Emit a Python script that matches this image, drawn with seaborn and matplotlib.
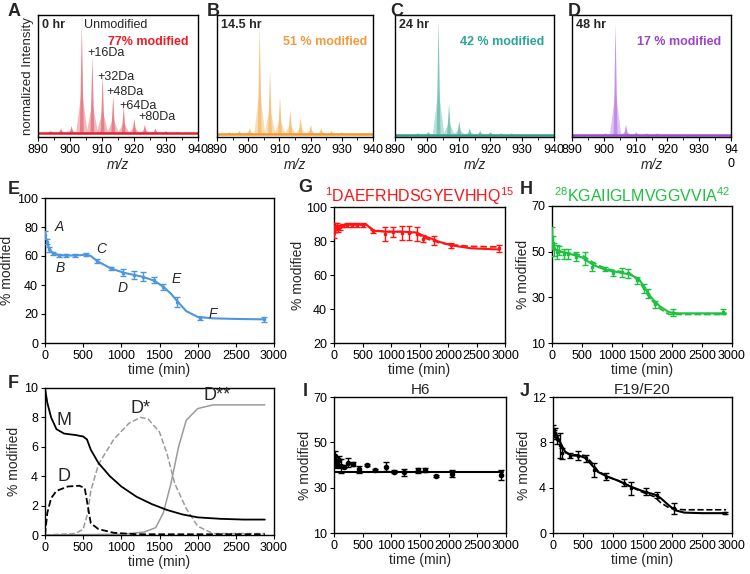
import numpy as np
import pandas as pd
import matplotlib
matplotlib.use("Agg")
import matplotlib.pyplot as plt
import seaborn as sns

sns.set_style("ticks")
plt.rcParams['font.family'] = ['Liberation Sans', 'DejaVu Sans']
plt.rcParams['mathtext.fontset'] = 'custom'
plt.rcParams['mathtext.rm'] = 'Liberation Sans'
plt.rcParams['mathtext.it'] = 'Liberation Sans:italic'
plt.rcParams['axes.edgecolor'] = 'black'
plt.rcParams['xtick.color'] = 'black'
plt.rcParams['ytick.color'] = 'black'

# ---- spectra (A-D): peak centres (m/z) and normalised heights ----
peak_mz = [894.0, 897.2, 900.5, 903.7, 907.0, 910.2, 913.5, 916.8, 920.1, 923.4, 926.7, 930.0, 933.4, 936.8]
int_0hr = [0.05, 0.07, 0.09, 0.93, 0.66, 0.50, 0.34, 0.25, 0.15, 0.10, 0.07, 0.05, 0.04, 0.03]
int_14hr = [0.04, 0.05, 0.07, 0.92, 0.55, 0.33, 0.22, 0.16, 0.10, 0.07, 0.05, 0.04, 0.03, 0.03]
int_24hr = [0.02, 0.03, 0.04, 0.96, 0.27, 0.13, 0.07, 0.05, 0.04, 0.03, 0.03, 0.02, 0.02, 0.02]
int_48hr = [0.02, 0.02, 0.03, 0.93, 0.10, 0.04, 0.03, 0.03, 0.02, 0.02, 0.02, 0.02, 0.02, 0.02]
baselines = [0.033, 0.025, 0.02, 0.015]
spec_times = ["0 hr", "14.5 hr", "24 hr", "48 hr"]
spec_mod = ["77% modified", "51 % modified", "42 % modified", "17 % modified"]
mz_ticks = [890, 900, 910, 920, 930, 940]

# ---- E: overall % modified ----
e_time = [0, 22, 57, 109, 187, 275, 393, 537, 677, 860, 1026, 1170, 1288, 1428, 1550, 1725, 2030, 2873]
e_mod = [74.5, 70, 64.6, 61.8, 60.5, 60.4, 60.4, 60.9, 56.6, 51.5, 48.5, 46.9, 45.7, 43.4, 38.8, 28, 17, 16.3]
e_err = [3, 2, 1.5, 1, 1, 1, 1, 1.2, 1.5, 1, 2.5, 3, 3, 2, 2, 3.5, 1, 1.5]
e_fit_time = [0, 20, 60, 110, 190, 300, 420, 540, 600, 680, 860, 1030, 1170, 1290, 1430, 1550, 1650, 1730, 1850, 2000, 2200, 2500, 2873]
e_fit_mod = [74.5, 70, 64.6, 61.8, 60.5, 60.3, 60.4, 60.9, 60.0, 56.6, 51.5, 48.5, 46.9, 45.5, 43, 38.8, 34, 29, 22, 18, 17, 16.6, 16.3]
e_letters = ["A", "B", "C", "D", "E", "F"]
e_letter_t = [131, 144, 668, 957, 1660, 2140]
e_letter_v = [80, 52, 65, 38, 44, 20]

# ---- F: model species ----
m_time = [0, 30, 80, 150, 250, 400, 500, 550, 600, 700, 850, 1000, 1200, 1400, 1600, 1800, 2000, 2300, 2600, 2880]
m_val = [10, 9, 8, 7.2, 6.9, 6.8, 6.7, 6.5, 5.8, 4.9, 4.0, 3.3, 2.6, 2.1, 1.7, 1.4, 1.2, 1.1, 1.05, 1.05]
d_time = [0, 30, 80, 150, 300, 450, 520, 560, 600, 700, 900, 1200, 2880]
d_val = [0, 1.5, 2.5, 3.0, 3.3, 3.35, 3.2, 2.0, 0.8, 0.4, 0.15, 0.05, 0.05]
ds_time = [0, 400, 500, 560, 600, 700, 900, 1100, 1250, 1350, 1500, 1600, 1700, 1850, 2000, 2200, 2880]
ds_val = [0, 0.1, 0.4, 1.5, 3.0, 4.8, 6.5, 7.6, 8.0, 7.9, 7.0, 5.5, 3.5, 1.8, 0.6, 0.1, 0.1]
dss_time = [0, 1000, 1300, 1450, 1550, 1650, 1750, 1850, 2000, 2200, 2880]
dss_val = [0, 0.05, 0.2, 0.5, 1.5, 3.5, 6.0, 7.8, 8.6, 8.85, 8.85]

# ---- G: N-terminal fragment ----
g_time = [0, 10, 25, 45, 70, 100, 150, 228, 316, 404, 509, 684, 895, 1040, 1187, 1316, 1450, 1567, 1760, 2047, 2895]
g_mod = [84.5, 88, 87.5, 88.5, 87.5, 88, 89, 89.5, 89.5, 89.5, 89.5, 85.6, 84.2, 85.5, 84.7, 84.7, 84, 81.4, 80.4, 77.6, 75.6]
g_err = [3, 2.5, 2, 2, 2, 1.5, 1, 1, 1, 1, 1, 1, 4, 3, 4, 4, 4, 2, 2.5, 1.5, 2]
g_fit_time = [0, 30, 100, 250, 570, 690, 900, 1200, 1450, 1570, 1700, 1850, 2050, 2400, 2900]
g_fit_mod = [85, 88, 89, 89.6, 89.6, 86, 85.5, 85.5, 85, 83, 81.5, 79.5, 77.5, 75.7, 75]
g_dash_mod = [86, 88, 89, 89.6, 89.6, 86.5, 85.5, 85.5, 84.5, 82, 80.5, 79, 77.8, 76.8, 76.5]

# ---- H: C-terminal fragment ----
h_time = [0, 15, 40, 80, 122, 200, 272, 400, 550, 661, 883, 1022, 1161, 1272, 1411, 1533, 1600, 1717, 2022, 2844]
h_mod = [56, 54, 51, 50, 50.5, 49, 49, 47.8, 47, 43.5, 42.5, 40.5, 41, 40.5, 37.5, 34, 31.5, 27, 23.3, 23.7]
h_err = [5, 3, 3, 3, 2, 2, 2, 2, 3, 2, 1, 1, 2, 2, 1.5, 2, 2, 1.5, 1.5, 1]
h_fit_time = [0, 50, 150, 300, 500, 700, 900, 1100, 1300, 1450, 1550, 1650, 1800, 1950, 2100, 2900]
h_fit_mod = [56, 51, 50, 49, 47.5, 44, 42, 41, 40, 38, 34, 30, 26, 23.5, 23, 23]
h_dash_mod = [55, 51, 50, 49.3, 48.5, 45, 42.5, 41.5, 40.5, 37, 33, 29, 25, 22.5, 22.5, 22.5]

# ---- I: H6 ----
i_time = [0, 10, 25, 40, 60, 90, 120, 180, 240, 326, 443, 570, 716, 908, 1052, 1222, 1472, 1588, 1775, 2053, 2920]
i_mod = [42.5, 44, 40.5, 41.5, 40, 42, 39.5, 39.3, 41, 40.5, 38.1, 40, 37.8, 39.3, 37.1, 36.7, 37.6, 37.8, 35.2, 36.1, 35.6]
i_err = [2, 2, 1.5, 2, 1.5, 2, 3, 0.5, 2, 1, 1.5, 0.5, 0.5, 2, 0.5, 1.5, 1, 1, 0.5, 1.5, 2]
i_fit_time = [0, 2950]
i_fit_mod = [37.1, 37.1]

# ---- J: F19/F20 ----
j_time = [6, 20, 33, 72, 117, 145, 285, 413, 553, 692, 888, 1190, 1307, 1558, 1737, 2032, 2886]
j_mod = [9.1, 8.8, 8.8, 8.27, 7.76, 7.03, 6.82, 6.8, 6.6, 5.56, 4.97, 4.44, 3.94, 3.65, 3.35, 2.18, 1.79]
j_err = [0.4, 0.3, 0.5, 0.4, 1.1, 0.5, 0.2, 0.4, 0.3, 0.6, 0.3, 0.3, 0.6, 0.3, 0.3, 0.5, 0.1]
j_fit_time = [0, 50, 120, 200, 300, 450, 550, 650, 750, 900, 1100, 1300, 1500, 1700, 1800, 1950, 2050, 2200, 2500, 2900]
j_fit_mod = [9.2, 8.8, 8.0, 7.2, 6.85, 6.8, 6.6, 6.0, 5.4, 5.0, 4.6, 4.1, 3.7, 3.4, 3.1, 2.4, 2.0, 1.8, 1.75, 1.75]
j_dash_mod = [9.2, 8.7, 7.8, 7.1, 6.9, 6.9, 6.8, 6.2, 5.5, 5.0, 4.6, 4.1, 3.6, 3.2, 2.7, 2.2, 2.1, 2.05, 2.05, 2.05]

W, H = 750, 574


def rect(l, t, r, b):
    return [l / W, 1 - b / H, (r - l) / W, (b - t) / H]


fig = plt.figure(figsize=(7.5, 5.74), dpi=100)

# spectra row
spec_rects = [(38, 15, 198, 137), (217, 15, 373, 137), (395, 15, 554, 137), (572, 15, 731, 137)]
spec_ints = [int_0hr, int_14hr, int_24hr, int_48hr]
line_cols = ["#e8202a", "#f39a2a", "#2f9e8f", "#9b4fd0"]
fill_cols = ["#e47a82", "#f5bd72", "#72c0b3", "#c186e6"]
text_cols = ["#ee1c25", "#f39a3c", "#2aa598", "#9b45cf"]
letter_x = [8, 207, 390, 568]
text_x = [0.94, 0.96, 0.94, 0.94]

for k in range(4):
    ax = fig.add_axes(rect(*spec_rects[k]))
    base = baselines[k]
    for c, h in zip(peak_mz, spec_ints[k]):
        ax.fill([c - 1.8, c, c + 1.8], [base, base + 0.4 * (h - base), base], color=fill_cols[k], alpha=0.5, lw=0)
        ax.fill([c - 0.6, c, c + 0.6], [base, h, base], color=fill_cols[k], alpha=0.9, lw=0)
    ax.axhline(base, color=line_cols[k], lw=1.8)
    ax.set_xlim(890, 940)
    ax.set_ylim(0, 1.0)
    ax.set_yticks([])
    ax.set_xticks(mz_ticks)
    labels = [str(v) for v in mz_ticks]
    if k == 3:
        labels[-1] = "94\n0"
    ax.set_xticklabels(labels, fontsize=9)
    ax.set_xticks([895, 905, 915, 925, 935], minor=True)
    ax.tick_params(axis='x', length=3, width=0.8, pad=2)
    ax.tick_params(axis='x', which='minor', length=2)
    ax.set_xlabel("m/z", fontsize=10, style='italic')
    ax.xaxis.set_label_coords(0.5, -0.17)
    for s in ax.spines.values():
        s.set_linewidth(1.0)
    ax.text(0.025, 0.92, spec_times[k], transform=ax.transAxes, fontsize=9, fontweight='bold', va='center')
    ax.text(text_x[k], 0.78, spec_mod[k], transform=ax.transAxes, fontsize=9, fontweight='bold',
            color=text_cols[k], ha='right', va='center')
    fig.text(letter_x[k] / W, 1 - 11 / H, "ABCD"[k], fontsize=13, fontweight='bold', va='center')
    if k == 0:
        ax.set_ylabel("normalized Intensity", fontsize=9.5, labelpad=3)
        ax.text(0.29, 0.92, "Unmodified", transform=ax.transAxes, fontsize=9, va='center')
        da_x = [0.31, 0.37, 0.43, 0.506, 0.627]
        da_y = [0.69, 0.49, 0.37, 0.254, 0.166]
        for lab, tx, ty in zip(["+16Da", "+32Da", "+48Da", "+64Da", "+80Da"], da_x, da_y):
            ax.text(tx, ty, lab, transform=ax.transAxes, fontsize=9, va='center')


def style_time_axis(ax, ylim, yticks, ylabel_pad=2):
    ax.set_xlim(0, 3000)
    ax.set_ylim(*ylim)
    ax.set_yticks(yticks)
    ax.set_xticks([0, 500, 1000, 1500, 2000, 2500, 3000])
    ax.tick_params(labelsize=9, length=3, width=0.8, pad=2)
    ax.set_xlabel("time (min)", fontsize=10, labelpad=1)
    ax.set_ylabel("% modified", fontsize=10, labelpad=ylabel_pad)
    for s in ax.spines.values():
        s.set_linewidth(1.0)


def points(ax, t, v, err, color, ms=2, marker='s'):
    ax.errorbar(t, v, yerr=err, fmt=marker, ms=ms, color=color, ecolor=color, elinewidth=1, capsize=2, capthick=1, zorder=3)


# E
axE = fig.add_axes(rect(45, 198, 274, 343))
blue = "#4f97dc"
sns.lineplot(x=e_fit_time, y=e_fit_mod, ax=axE, color=blue, lw=1.5)
points(axE, e_time, e_mod, e_err, blue)
for lab, tt, vv in zip(e_letters, e_letter_t, e_letter_v):
    axE.text(tt, vv, lab, fontsize=10, style='italic', va='center')
style_time_axis(axE, (0, 100), [0, 20, 40, 60, 80, 100])
fig.text(8 / W, 1 - 189 / H, "E", fontsize=13, fontweight='bold', va='center')

# F
axF = fig.add_axes(rect(45, 388, 274, 535))
sns.lineplot(x=ds_time, y=ds_val, ax=axF, color="#9a9a9a", lw=1.1, linestyle='--')
sns.lineplot(x=dss_time, y=dss_val, ax=axF, color="#9a9a9a", lw=1.1)
sns.lineplot(x=d_time, y=d_val, ax=axF, color="black", lw=1.3, linestyle='--')
sns.lineplot(x=m_time, y=m_val, ax=axF, color="black", lw=1.3)
axF.text(250, 7.8, "M", fontsize=13, ha='center', va='center')
axF.text(250, 4.0, "D", fontsize=13, ha='center', va='center')
axF.text(1250, 8.6, "D*", fontsize=13, ha='center', va='center')
axF.text(2250, 9.5, "D**", fontsize=13, ha='center', va='center')
style_time_axis(axF, (0, 10), [0, 2, 4, 6, 8, 10])
fig.text(8 / W, 1 - 383 / H, "F", fontsize=13, fontweight='bold', va='center')

# G
red = "#ff1414"
axG = fig.add_axes(rect(334, 207, 505, 343))
sns.lineplot(x=g_fit_time, y=g_dash_mod, ax=axG, color=red, lw=1.3, linestyle='--')
sns.lineplot(x=g_fit_time, y=g_fit_mod, ax=axG, color=red, lw=1.5)
points(axG, g_time, g_mod, g_err, red)
style_time_axis(axG, (20, 100), [20, 40, 60, 80, 100], ylabel_pad=1)
axG.set_title(r"$^{1}$DAEFRHDSGYEVHHQ$^{15}$", color=red, fontsize=11.5, pad=3)
fig.text(298 / W, 1 - 188 / H, "G", fontsize=13, fontweight='bold', va='center')

# H
green = "#1ec040"
axH = fig.add_axes(rect(552, 206, 732, 343))
sns.lineplot(x=h_fit_time, y=h_dash_mod, ax=axH, color=green, lw=1.3, linestyle='--')
sns.lineplot(x=h_fit_time, y=h_fit_mod, ax=axH, color=green, lw=1.5)
points(axH, h_time, h_mod, h_err, green)
style_time_axis(axH, (10, 70), [10, 30, 50, 70], ylabel_pad=1)
axH.set_title(r"$^{28}$KGAIIGLMVGGVVIA$^{42}$", color=green, fontsize=11.5, pad=3)
fig.text(520 / W, 1 - 189 / H, "H", fontsize=13, fontweight='bold', va='center')

# I
axI = fig.add_axes(rect(334, 397, 506, 533))
sns.lineplot(x=i_fit_time, y=i_fit_mod, ax=axI, color="black", lw=1.5)
points(axI, i_time, i_mod, i_err, "black", ms=3, marker='o')
style_time_axis(axI, (10, 70), [10, 30, 50, 70], ylabel_pad=1)
axI.set_title("H6", fontsize=11, pad=2)
fig.text(303 / W, 1 - 391 / H, "I", fontsize=13, fontweight='bold', va='center')

# J
axJ = fig.add_axes(rect(553, 397, 732, 533))
sns.lineplot(x=j_fit_time, y=j_dash_mod, ax=axJ, color="black", lw=1.2, linestyle='--')
sns.lineplot(x=j_fit_time, y=j_fit_mod, ax=axJ, color="black", lw=1.5)
points(axJ, j_time, j_mod, j_err, "black")
style_time_axis(axJ, (0, 12), [0, 4, 8, 12], ylabel_pad=1)
axJ.set_title("F19/F20", fontsize=11, pad=2)
fig.text(520 / W, 1 - 391 / H, "J", fontsize=13, fontweight='bold', va='center')

fig.savefig("out.png", dpi=100)
